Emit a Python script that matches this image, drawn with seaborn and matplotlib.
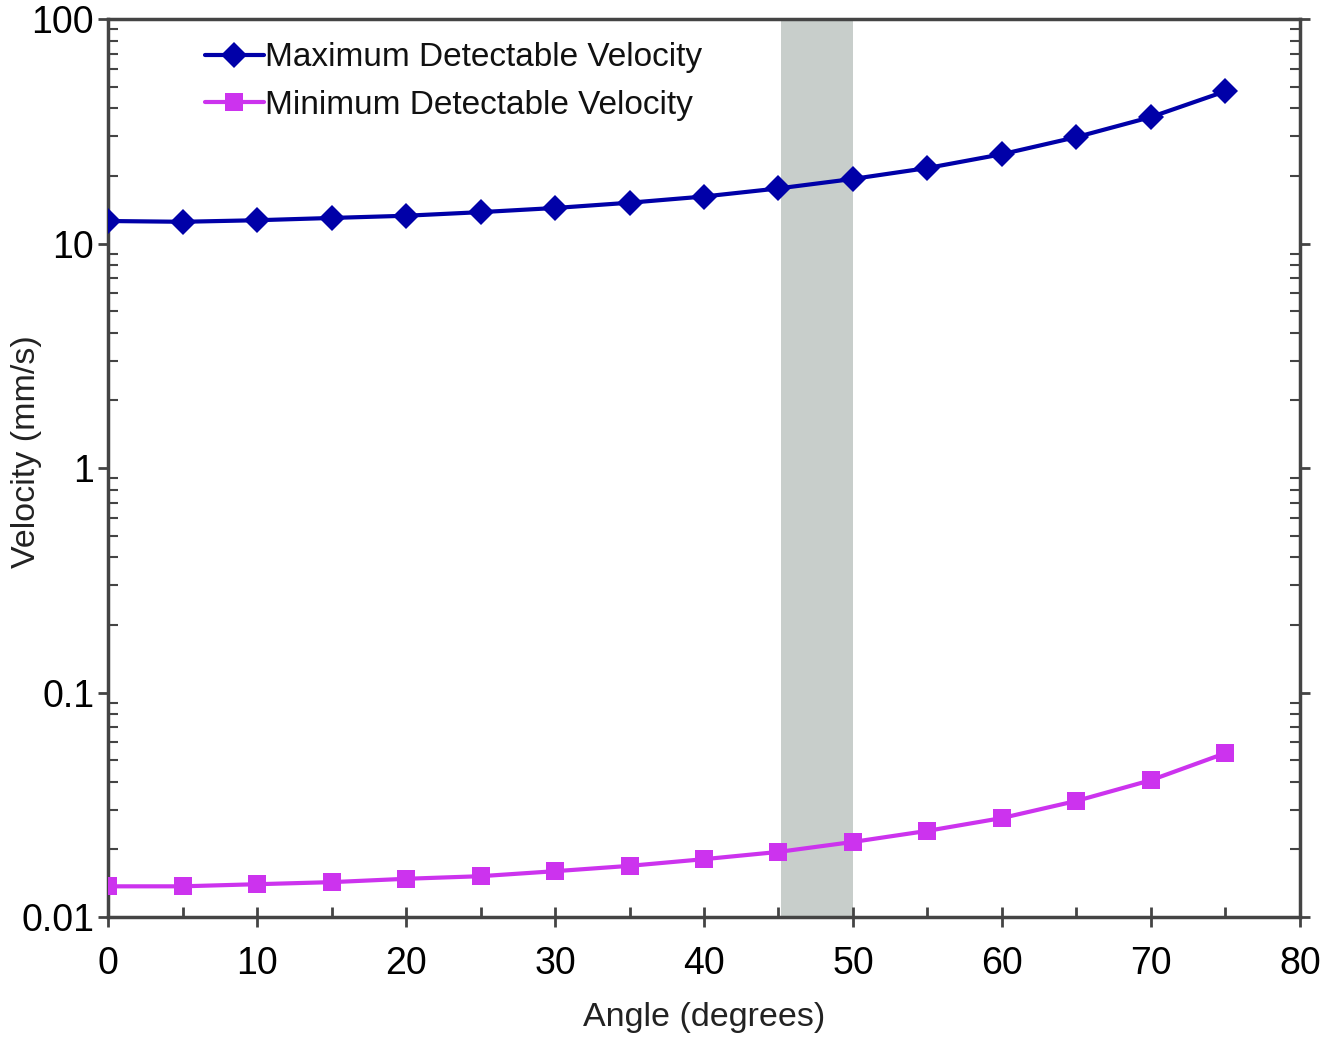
import numpy as np
import pandas as pd
import matplotlib
matplotlib.use("Agg")
import matplotlib.pyplot as plt
import seaborn as sns
from matplotlib.ticker import LogLocator, MultipleLocator, FixedLocator, NullFormatter

# dati
angles = [0, 5, 10, 15, 20, 25, 30, 35, 40, 45, 50, 55, 60, 65, 70, 75]
max_velocity = [12.6, 12.5, 12.7, 13.0, 13.3, 13.8, 14.4, 15.2, 16.2, 17.6, 19.4,
                21.7, 25.0, 29.8, 36.6, 47.7]
min_velocity = [0.0137, 0.0137, 0.0140, 0.0143, 0.0148, 0.0152, 0.0160, 0.0169, 0.0181,
                0.0195, 0.0216, 0.0242, 0.0276, 0.0329, 0.0407, 0.0537]
band = (45.2, 50)
series_names = ["Maximum Detectable Velocity", "Minimum Detectable Velocity"]

df = pd.concat([
    pd.DataFrame({"Angle": angles, "Velocity": max_velocity, "Series": series_names[0]}),
    pd.DataFrame({"Angle": angles, "Velocity": min_velocity, "Series": series_names[1]}),
], ignore_index=True)

sns.set_theme(style="white")
plt.rcParams['font.family'] = ['Liberation Sans', 'DejaVu Sans']

fig = plt.figure(figsize=(13.37, 10.41), dpi=100)
ax = fig.add_axes([0.0808, 0.1191, 0.8915, 0.8626])

ax.axvspan(band[0], band[1], color="#c8cecb", zorder=0, lw=0)

sns.lineplot(data=df, x="Angle", y="Velocity", hue="Series", style="Series",
             palette=["#0000a8", "#cc33ee"], markers=["D", "s"], dashes=False,
             linewidth=3, markersize=13, markeredgewidth=0, ax=ax, zorder=3)

ax.set_yscale("log")
ax.set_xlim(0, 80)
ax.set_ylim(0.01, 100)

ax.xaxis.set_major_locator(MultipleLocator(10))
ax.xaxis.set_minor_locator(FixedLocator([5, 15, 25, 35, 45, 55, 65, 75]))
ax.yaxis.set_minor_locator(LogLocator(base=10, subs=np.arange(2, 10), numticks=10))
ax.yaxis.set_minor_formatter(NullFormatter())
ax.set_yticks([0.01, 0.1, 1, 10, 100])
ax.set_yticklabels(["0.01", "0.1", "1", "10", "100"])

ax.tick_params(axis="x", which="major", direction="inout", length=14, width=2,
               labelsize=27, pad=14, bottom=True, colors="#444444", labelcolor="black")
ax.tick_params(axis="x", which="minor", direction="in", length=7, width=2,
               bottom=True, colors="#444444")
ax.tick_params(axis="y", which="major", direction="out", length=7, width=2,
               labelsize=27, pad=3, left=True, right=True, colors="#444444",
               labelcolor="black")
ax.tick_params(axis="y", which="minor", direction="in", length=7, width=1.5,
               left=True, right=True, colors="#444444")

for sp in ax.spines.values():
    sp.set_color("#444444")
    sp.set_linewidth(2.5)

ax.set_xlabel("Angle (degrees)", fontsize=24.5, color="#222222")
ax.set_ylabel("Velocity (mm/s)", fontsize=24.5, color="#222222")
ax.xaxis.set_label_coords(0.5, -0.095)
ax.yaxis.set_label_coords(-0.055, 0.518)

leg = ax.legend(loc="upper left", bbox_to_anchor=(0.062, 1.0), frameon=False,
                fontsize=24, handlelength=1.75, handletextpad=0.05, labelspacing=0.5,
                borderpad=0.2)
for text in leg.get_texts():
    text.set_color("#111111")
for line in leg.get_lines():
    line.set_linewidth(3)
    line.set_markersize(13)

fig.savefig("out.png", dpi=100)
